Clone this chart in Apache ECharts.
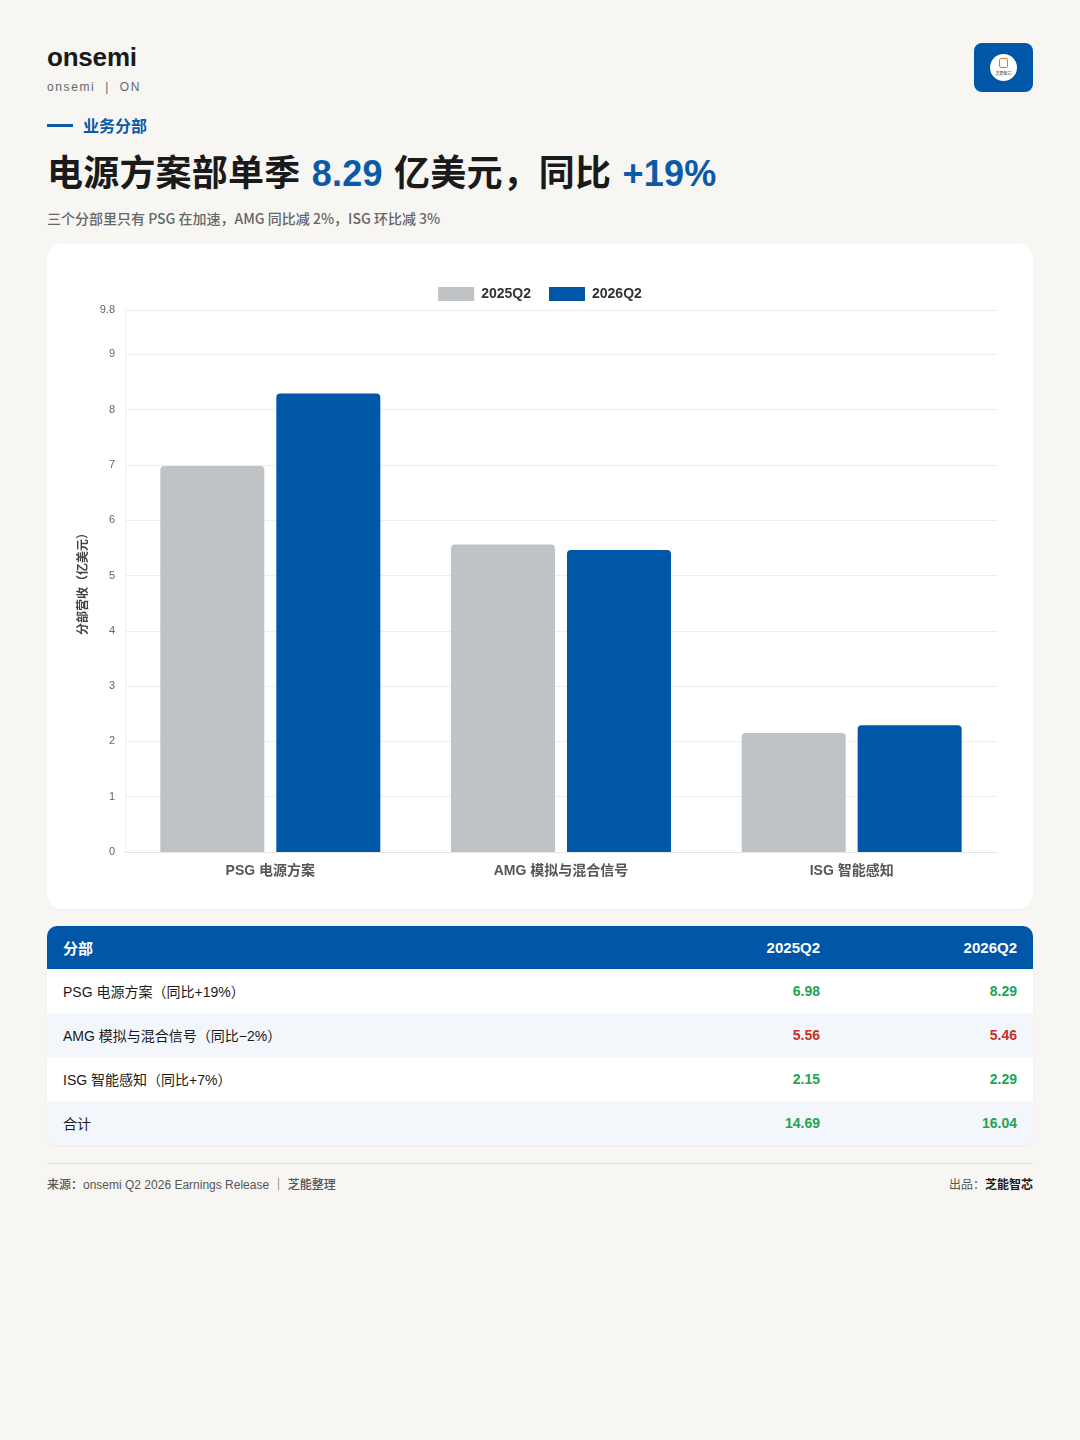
<!DOCTYPE html>
<html><head><meta charset="utf-8">
<script src="https://cdn.jsdelivr.net/npm/echarts@6/dist/echarts.min.js"></script>
<style>
*{margin:0;padding:0;box-sizing:border-box}
body{width:1080px;height:1440px;background:#f7f6f3;font-family:"Liberation Sans","Noto Sans CJK SC",sans-serif;color:#1a1a1a;position:relative;overflow:hidden}
.abs{position:absolute}
#brand{left:47px;top:42px;font-size:26px;font-weight:600;letter-spacing:-0.2px;color:#1a1a1a}
#brand2{left:47px;top:80px;font-size:12px;color:#666;letter-spacing:1.6px}
#logo{left:974px;top:43px;width:59px;height:49px;background:#0057a8;border-radius:8px}
#logo .c{position:absolute;left:16px;top:11px;width:27px;height:27px;border-radius:50%;background:#fff}
#logo .sq{position:absolute;left:9px;top:4px;width:9px;height:10px;border:1.5px solid #e07a3a;border-radius:2px}
#logo .t{position:absolute;left:0;top:16px;width:27px;text-align:center;font-size:4px;color:#333;font-family:"Noto Sans CJK SC"}
#tag{left:47px;top:113px;font-size:16px;font-weight:700;color:#0a5aa8;font-family:"Noto Sans CJK SC";display:flex;align-items:center}
#tag i{display:inline-block;width:26px;height:3px;background:#0a5aa8;margin-right:10px}
#title{left:47px;top:144px;font-size:36px;font-weight:700;font-family:"Noto Sans CJK SC";letter-spacing:0.2px;color:#1a1a1a;white-space:nowrap}
#title b{color:#0a5aa8;font-family:"Liberation Sans","Noto Sans CJK SC";font-weight:700;font-size:36px;margin:0 3px}
#sub{left:47px;top:208px;font-size:14px;color:#666;font-weight:500;font-family:"Noto Sans CJK SC"}
#card{left:47px;top:244px;width:986px;height:665px;background:#fff;border-radius:14px;box-shadow:0 1px 3px rgba(0,0,0,0.03)}
#chart{width:986px;height:665px}
#table{left:47px;top:926px;width:986px;border-radius:10px;overflow:hidden;background:#fff;box-shadow:0 1px 3px rgba(0,0,0,0.05)}
.row{display:flex;height:44px;align-items:center;font-size:14px;font-family:"Liberation Sans","Noto Sans CJK SC"}
.row .n{flex:1;padding-left:16px}
.row .v1{width:180px;text-align:right}
.row .v2{width:213px;text-align:right;padding-right:16px}
.hd{background:#0057a8;color:#fff;font-weight:700;font-size:15px;height:43px}
.alt{background:#f3f6fa}
.up{color:#22a454;font-weight:600}
.dn{color:#c8302c;font-weight:600}
#line{left:47px;top:1163px;width:986px;height:1px;background:#dcdcdc}
#src{left:47px;top:1175px;font-size:12px;color:#555;font-weight:500;font-family:"Liberation Sans","Noto Sans CJK SC"}
#by{right:47px;top:1175px;font-size:12px;color:#555;font-family:"Noto Sans CJK SC"}
#by b{color:#1a1a1a;font-weight:700}
</style></head>
<body>
<div id="brand" class="abs">onsemi</div>
<div id="brand2" class="abs">onsemi &nbsp;|&nbsp; ON</div>
<div id="logo" class="abs"><div class="c"><div class="sq"></div><div class="t">芝能智芯</div></div></div>
<div id="tag" class="abs"><i></i>业务分部</div>
<div id="title" class="abs">电源方案部单季 <b>8.29</b> 亿美元，同比 <b>+19%</b></div>
<div id="sub" class="abs">三个分部里只有 PSG 在加速，AMG 同比减 2%，ISG 环比减 3%</div>
<div id="card" class="abs"><div id="chart"></div></div>
<div id="table" class="abs"></div>
<div id="line" class="abs"></div>
<div id="src" class="abs">来源：onsemi Q2 2026 Earnings Release ｜ 芝能整理</div>
<div id="by" class="abs">出品：<b>芝能智芯</b></div>
<script>
const categories = ['PSG 电源方案', 'AMG 模拟与混合信号', 'ISG 智能感知'];
const seriesNames = ['2025Q2', '2026Q2'];
const values2025 = [6.98, 5.56, 2.15];
const values2026 = [8.29, 5.46, 2.29];
const tableLabels = ['PSG 电源方案（同比+19%）', 'AMG 模拟与混合信号（同比−2%）', 'ISG 智能感知（同比+7%）'];
const totalLabel = '合计';
const totals = [14.69, 16.04];

const chart = echarts.init(document.getElementById('chart'));
const lat = '"Liberation Sans","Noto Sans CJK SC",sans-serif';
chart.setOption({
  animation:false,
  textStyle:{fontFamily:lat},
  legend:{top:38,left:'center',itemWidth:36,itemHeight:14,itemGap:18,icon:'rect',
    textStyle:{fontSize:14,fontWeight:'bold',color:'#333',fontFamily:lat,padding:[0,0,0,2]},data:seriesNames},
  grid:{left:78,right:36,top:66,bottom:57,containLabel:false},
  xAxis:{type:'category',data:categories,
    axisLine:{lineStyle:{color:'#e3e3e3'}},axisTick:{show:false},
    axisLabel:{fontSize:14,fontWeight:'bold',color:'#555',margin:12,fontFamily:lat}},
  yAxis:{type:'value',min:0,max:9.8,interval:1,
    name:'分部营收（亿美元）',nameLocation:'middle',nameGap:34,
    nameTextStyle:{fontSize:12,fontWeight:'bold',color:'#444',fontFamily:'"Noto Sans CJK SC"'},
    axisLine:{show:true,lineStyle:{color:'#eeeeee'}},axisTick:{show:false},
    axisLabel:{fontSize:11,color:'#666',margin:10},
    splitLine:{lineStyle:{color:'#eeeeee'}}},
  series:[
    {name:seriesNames[0],type:'bar',data:values2025,barWidth:104,barGap:'11.5%',
     itemStyle:{color:'#bfc3c6',borderRadius:[4,4,0,0]}},
    {name:seriesNames[1],type:'bar',data:values2026,barWidth:104,barGap:'11.5%',
     itemStyle:{color:'#0057a8',borderRadius:[4,4,0,0]}}
  ]
});

const t = document.getElementById('table');
let html = '<div class="row hd"><div class="n">分部</div><div class="v1">'+seriesNames[0]+'</div><div class="v2">'+seriesNames[1]+'</div></div>';
const rows = tableLabels.map((l,i)=>[l, values2025[i], values2026[i], values2026[i]>=values2025[i]]);
rows.push([totalLabel, totals[0], totals[1], totals[1]>=totals[0]]);
rows.forEach((r,i)=>{
  const c = r[3]?'up':'dn';
  html += '<div class="row'+(i%2?' alt':'')+'"><div class="n">'+r[0]+'</div><div class="v1 '+c+'">'+r[1].toFixed(2)+'</div><div class="v2 '+c+'">'+r[2].toFixed(2)+'</div></div>';
});
t.innerHTML = html;
</script>
</body></html>
